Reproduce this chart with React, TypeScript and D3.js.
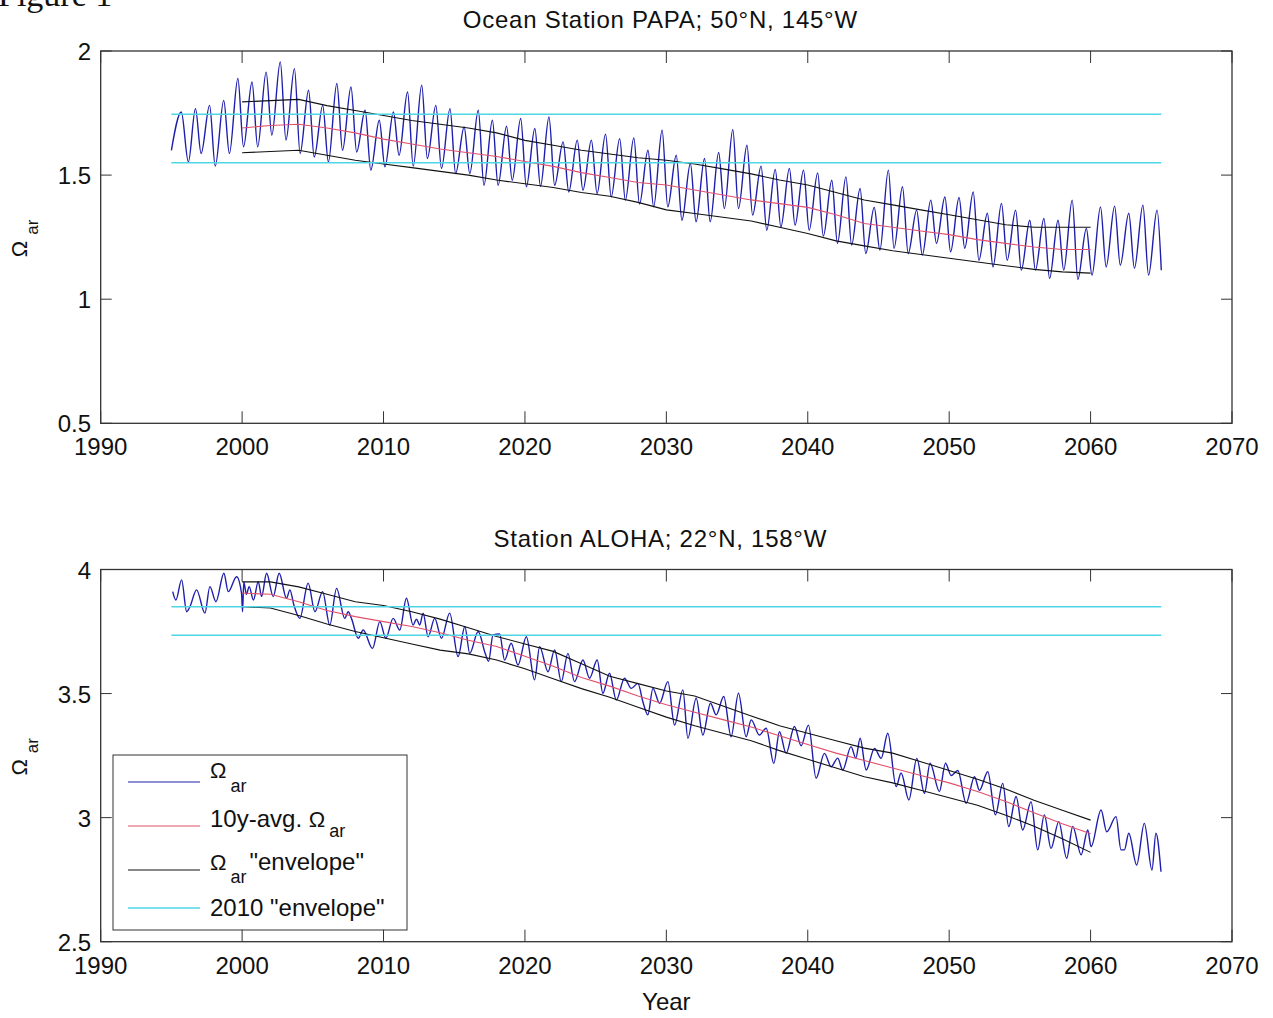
import React from 'react';
import * as d3 from 'd3';

// x axis (years) and y ticks
const yearTicks = [1990, 2000, 2010, 2020, 2030, 2040, 2050, 2060, 2070];
const papaTicks = [0.5, 1, 1.5, 2];
const alohaTicks = [2.5, 3, 3.5, 4];

// envelope / average sampled every 2 years, 2000..2060
const envYears = d3.range(2000, 2061, 2);

// Ocean Station PAPA
const papaAvg = [1.69, 1.7, 1.705, 1.69, 1.67, 1.645, 1.625, 1.605, 1.59, 1.575, 1.555, 1.535, 1.51, 1.49, 1.47, 1.46,
  1.44, 1.42, 1.4, 1.385, 1.37, 1.34, 1.305, 1.29, 1.275, 1.26, 1.24, 1.225, 1.21, 1.2, 1.2];
const papaUpper = [1.795, 1.8, 1.805, 1.78, 1.76, 1.74, 1.72, 1.705, 1.69, 1.67, 1.64, 1.62, 1.6, 1.585, 1.57, 1.56,
  1.545, 1.525, 1.505, 1.48, 1.46, 1.43, 1.4, 1.38, 1.36, 1.34, 1.32, 1.3, 1.29, 1.29, 1.29];
const papaLower = [1.59, 1.595, 1.6, 1.58, 1.56, 1.545, 1.53, 1.515, 1.5, 1.48, 1.465, 1.45, 1.43, 1.415, 1.39, 1.36,
  1.345, 1.33, 1.315, 1.29, 1.265, 1.235, 1.215, 1.195, 1.18, 1.165, 1.15, 1.135, 1.12, 1.11, 1.105];
const papaBand = [1.745, 1.55];
// seasonal extremes [year, omega]
const papaOmega: [number, number][] = [
  [1995.0, 1.6], [1995.7, 1.754], [1996.2, 1.553], [1996.7, 1.768], [1997.1, 1.587], [1997.7, 1.781],
  [1998.1, 1.536], [1998.7, 1.801], [1999.1, 1.587], [1999.7, 1.889], [2000.1, 1.614], [2000.7, 1.875],
  [2001.1, 1.614], [2001.7, 1.915], [2002.1, 1.661], [2002.7, 1.956], [2003.1, 1.641], [2003.7, 1.929],
  [2004.1, 1.587], [2004.7, 1.842], [2005.1, 1.573], [2005.7, 1.781], [2006.1, 1.553], [2006.7, 1.869],
  [2007.1, 1.6], [2007.7, 1.855], [2008.1, 1.593], [2008.7, 1.761], [2009.1, 1.52], [2009.7, 1.721],
  [2010.1, 1.533], [2010.7, 1.754], [2011.1, 1.58], [2011.7, 1.835], [2012.1, 1.536], [2012.7, 1.862],
  [2013.1, 1.567], [2013.7, 1.781], [2014.1, 1.527], [2014.7, 1.768], [2015.1, 1.506], [2015.7, 1.694],
  [2016.1, 1.506], [2016.7, 1.761], [2017.1, 1.459], [2017.7, 1.721], [2018.1, 1.459], [2018.7, 1.697],
  [2019.1, 1.479], [2019.7, 1.728], [2020.1, 1.453], [2020.7, 1.688], [2021.1, 1.455], [2021.7, 1.734],
  [2022.1, 1.459], [2022.7, 1.634], [2023.1, 1.432], [2023.7, 1.641], [2024.1, 1.439], [2024.7, 1.641],
  [2025.1, 1.426], [2025.7, 1.665], [2026.1, 1.412], [2026.7, 1.647], [2027.1, 1.399], [2027.7, 1.65],
  [2028.1, 1.383], [2028.7, 1.6], [2029.1, 1.372], [2029.7, 1.681], [2030.1, 1.372], [2030.7, 1.58],
  [2031.1, 1.318], [2031.7, 1.547], [2032.1, 1.312], [2032.7, 1.567], [2033.1, 1.312], [2033.7, 1.591],
  [2034.1, 1.365], [2034.7, 1.684], [2035.1, 1.365], [2035.7, 1.62], [2036.1, 1.339], [2036.7, 1.536],
  [2037.1, 1.278], [2037.7, 1.523], [2038.1, 1.291], [2038.7, 1.527], [2039.1, 1.298], [2039.7, 1.52],
  [2040.1, 1.278], [2040.7, 1.509], [2041.1, 1.254], [2041.7, 1.479], [2042.1, 1.225], [2042.7, 1.493],
  [2043.1, 1.218], [2043.7, 1.446], [2044.1, 1.184], [2044.7, 1.37], [2045.1, 1.198], [2045.7, 1.52],
  [2046.1, 1.205], [2046.7, 1.453], [2047.1, 1.184], [2047.7, 1.359], [2048.1, 1.178], [2048.7, 1.399],
  [2049.1, 1.225], [2049.7, 1.412], [2050.1, 1.191], [2050.7, 1.41], [2051.1, 1.205], [2051.7, 1.432],
  [2052.1, 1.157], [2052.7, 1.346], [2053.1, 1.13], [2053.7, 1.386], [2054.1, 1.157], [2054.7, 1.359],
  [2055.1, 1.117], [2055.7, 1.318], [2056.1, 1.117], [2056.7, 1.325], [2057.1, 1.084], [2057.7, 1.318],
  [2058.1, 1.117], [2058.7, 1.399], [2059.1, 1.08], [2059.7, 1.285], [2060.1, 1.097], [2060.7, 1.372],
  [2061.1, 1.13], [2061.7, 1.375], [2062.1, 1.137], [2062.7, 1.346], [2063.1, 1.124], [2063.7, 1.379],
  [2064.1, 1.097], [2064.7, 1.359], [2065.0, 1.117],
];

// Station ALOHA
const alohaAvg = [3.905, 3.9, 3.87, 3.835, 3.81, 3.79, 3.77, 3.745, 3.715, 3.69, 3.65, 3.61, 3.565, 3.53, 3.49, 3.455,
  3.425, 3.395, 3.365, 3.33, 3.295, 3.26, 3.23, 3.2, 3.17, 3.14, 3.105, 3.065, 3.02, 2.975, 2.935];
const alohaUpper = [3.95, 3.95, 3.93, 3.9, 3.87, 3.855, 3.83, 3.8, 3.765, 3.73, 3.7, 3.67, 3.62, 3.57, 3.54, 3.51,
  3.49, 3.45, 3.41, 3.37, 3.34, 3.31, 3.28, 3.26, 3.225, 3.19, 3.155, 3.115, 3.07, 3.03, 2.99];
const alohaLower = [3.85, 3.845, 3.815, 3.78, 3.75, 3.725, 3.7, 3.675, 3.66, 3.635, 3.6, 3.56, 3.52, 3.485, 3.445, 3.405,
  3.37, 3.34, 3.31, 3.27, 3.235, 3.2, 3.165, 3.14, 3.11, 3.08, 3.05, 3.01, 2.965, 2.915, 2.86];
const alohaBand = [3.85, 3.735];
const alohaOmega: [number, number][] = [
  [1995.09, 3.911], [1995.32, 3.877], [1995.72, 3.958], [1996.08, 3.83], [1996.31, 3.85], [1996.78, 3.918],
  [1997.37, 3.824], [1997.72, 3.931], [1998.15, 3.87], [1998.71, 3.985], [1999.02, 3.911], [1999.61, 3.971],
  [1999.96, 3.904], [2000.03, 3.83], [2000.12, 3.95], [2000.3, 3.9], [2000.5, 3.931], [2000.8, 3.877],
  [2001.14, 3.951], [2001.38, 3.891], [2001.73, 3.985], [2002.2, 3.891], [2002.62, 3.985], [2003.14, 3.884],
  [2003.38, 3.918], [2003.66, 3.857], [2004.08, 3.803], [2004.67, 3.945], [2005.15, 3.83], [2005.69, 3.911],
  [2006.2, 3.776], [2006.68, 3.924], [2007.26, 3.803], [2007.5, 3.83], [2007.75, 3.8], [2008.21, 3.723],
  [2008.56, 3.756], [2009.22, 3.682], [2009.74, 3.79], [2010.16, 3.723], [2010.68, 3.803], [2011.15, 3.756],
  [2011.62, 3.884], [2012.09, 3.776], [2012.33, 3.8], [2012.56, 3.776], [2012.8, 3.824], [2013.15, 3.729],
  [2013.62, 3.803], [2014.1, 3.723], [2014.68, 3.824], [2015.27, 3.649], [2015.75, 3.77], [2016.1, 3.662],
  [2016.69, 3.75], [2017.2, 3.66], [2017.43, 3.63], [2017.74, 3.736], [2018.21, 3.74], [2018.56, 3.635],
  [2019.03, 3.703], [2019.51, 3.615], [2020.1, 3.729], [2020.68, 3.555], [2021.04, 3.689], [2021.63, 3.588],
  [2022.1, 3.676], [2022.57, 3.548], [2023.04, 3.662], [2023.51, 3.548], [2024.1, 3.635], [2024.57, 3.562],
  [2025.11, 3.635], [2025.51, 3.501], [2025.98, 3.582], [2026.46, 3.474], [2027.04, 3.562], [2027.52, 3.521],
  [2027.99, 3.541], [2028.34, 3.467], [2028.69, 3.414], [2029.05, 3.521], [2029.52, 3.461], [2030.11, 3.548],
  [2030.58, 3.373], [2031.17, 3.515], [2031.52, 3.32], [2032.11, 3.481], [2032.58, 3.333], [2033.12, 3.461],
  [2033.52, 3.414], [2034.06, 3.488], [2034.58, 3.326], [2035.1, 3.501], [2035.64, 3.326], [2036.0, 3.394],
  [2036.58, 3.333], [2037.06, 3.36], [2037.6, 3.219], [2038.0, 3.346], [2038.47, 3.259], [2039.06, 3.367],
  [2039.53, 3.29], [2040.05, 3.373], [2040.59, 3.159], [2041.18, 3.259], [2041.65, 3.205], [2042.12, 3.24],
  [2042.47, 3.192], [2043.06, 3.286], [2043.4, 3.24], [2043.7, 3.32], [2044.13, 3.192], [2044.72, 3.279],
  [2045.19, 3.239], [2045.66, 3.34], [2046.25, 3.125], [2046.6, 3.18], [2047.15, 3.071], [2047.71, 3.239],
  [2048.25, 3.098], [2048.65, 3.219], [2049.31, 3.105], [2049.74, 3.219], [2050.14, 3.17], [2050.61, 3.19],
  [2051.2, 3.058], [2051.79, 3.165], [2052.14, 3.11], [2052.73, 3.185], [2053.27, 3.011], [2053.79, 3.138],
  [2054.21, 2.964], [2054.73, 3.085], [2055.2, 2.95], [2055.79, 3.064], [2056.26, 2.87], [2056.73, 3.011],
  [2057.2, 2.876], [2057.75, 2.984], [2058.31, 2.836], [2058.74, 2.964], [2059.33, 2.85], [2059.8, 2.95],
  [2060.03, 2.883], [2060.74, 3.031], [2061.14, 2.943], [2061.8, 3.004], [2062.15, 2.87], [2062.39, 2.87],
  [2062.7, 2.937], [2063.26, 2.809], [2063.8, 2.977], [2064.34, 2.789], [2064.62, 2.937], [2064.98, 2.782],
];

const W = 1273;
const H = 1018;
const LEFT = 100.7;
const RIGHT = 1232;
const FONT = '"Liberation Sans", Arial, Helvetica, sans-serif';
const AXIS = '#333';
const BLUE = '#1e1eac';
const RED = '#e0506a';
const BLACK = '#111';
const CYAN = '#4fd6e6';

const x = d3.scaleLinear().domain([1990, 2070]).range([LEFT, RIGHT]);

// rotated y-axis label: Omega with subscript "ar"
function YLabel({ cy }: { cy: number }) {
  return (
    <text transform={`translate(27,${cy + 20}) rotate(-90)`} fontFamily={FONT} fill="#111">
      <tspan fontSize={22}>Ω</tspan>
      <tspan fontSize={17} dx={6} dy={11}>ar</tspan>
    </text>
  );
}

function Legend() {
  const bx = 113, by = 755, bw = 294, bh = 175;
  const rows = [
    { y: 782, color: BLUE },
    { y: 826, color: RED },
    { y: 870, color: BLACK },
    { y: 908, color: CYAN },
  ];
  return (
    <g fontFamily={FONT} fill="#111">
      <rect x={bx} y={by} width={bw} height={bh} fill="#fff" stroke={AXIS} strokeWidth={1} />
      {rows.map((r, i) => (
        <line key={i} x1={128} x2={200} y1={r.y} y2={r.y} stroke={r.color} strokeWidth={i === 3 ? 1.5 : 1} />
      ))}
      <text x={210} y={778}>
        <tspan fontSize={22}>Ω</tspan>
        <tspan fontSize={18} dx={4} dy={14}>ar</tspan>
      </text>
      <text x={210} y={827}>
        <tspan fontSize={24}>10y-avg. </tspan>
        <tspan fontSize={22}>Ω</tspan>
        <tspan fontSize={18} dx={4} dy={10}>ar</tspan>
      </text>
      <text x={210} y={870}>
        <tspan fontSize={22}>Ω</tspan>
        <tspan fontSize={18} dx={4} dy={13}>ar</tspan>
        <tspan fontSize={24} dx={3} dy={-13}>"envelope"</tspan>
      </text>
      <text x={210} y={916} fontSize={24}>2010 "envelope"</text>
    </g>
  );
}

type PanelProps = {
  top: number;
  bottom: number;
  title: string;
  domain: [number, number];
  ticks: number[];
  omega: [number, number][];
  avg: number[];
  upper: number[];
  lower: number[];
  band: number[];
  xLabel?: boolean;
  legend?: boolean;
};

function Panel({ top, bottom, title, domain, ticks, omega, avg, upper, lower, band, xLabel, legend }: PanelProps) {
  const y = d3.scaleLinear().domain(domain).range([bottom, top]);
  const omegaLine = d3.line<[number, number]>()
    .x(d => x(d[0]))
    .y(d => y(d[1]))
    .curve(d3.curveMonotoneX);
  const envLine = d3.line<number>()
    .x((_, i) => x(envYears[i]))
    .y(d => y(d));

  return (
    <g>
      <rect x={LEFT} y={top} width={RIGHT - LEFT} height={bottom - top} fill="#fff" />
      <path d={omegaLine(omega) || ''} fill="none" stroke={BLUE} strokeWidth={1.4} />
      <path d={envLine(avg) || ''} fill="none" stroke={RED} strokeWidth={1.1} />
      <path d={envLine(upper) || ''} fill="none" stroke={BLACK} strokeWidth={1.1} />
      <path d={envLine(lower) || ''} fill="none" stroke={BLACK} strokeWidth={1.1} />
      {band.map((v, i) => (
        <line key={i} x1={x(1995)} x2={x(2065)} y1={y(v)} y2={y(v)} stroke={CYAN} strokeWidth={1.6} />
      ))}

      {legend && <Legend />}

      <rect x={LEFT} y={top} width={RIGHT - LEFT} height={bottom - top} fill="none" stroke={AXIS} strokeWidth={1.3} />
      {yearTicks.map(t => (
        <g key={t}>
          <line x1={x(t)} x2={x(t)} y1={bottom} y2={bottom - 12} stroke={AXIS} strokeWidth={1} />
          <line x1={x(t)} x2={x(t)} y1={top} y2={top + 12} stroke={AXIS} strokeWidth={1} />
          <text x={x(t)} y={bottom + 32} textAnchor="middle" fontFamily={FONT} fontSize={24} fill="#111">{t}</text>
        </g>
      ))}
      {ticks.map(t => (
        <g key={t}>
          <line x1={LEFT} x2={LEFT + 11} y1={y(t)} y2={y(t)} stroke={AXIS} strokeWidth={1} />
          <line x1={RIGHT} x2={RIGHT - 11} y1={y(t)} y2={y(t)} stroke={AXIS} strokeWidth={1} />
          <text x={91} y={y(t) + 9} textAnchor="end" fontFamily={FONT} fontSize={24} fill="#111">{String(t)}</text>
        </g>
      ))}
      <text x={(LEFT + RIGHT) / 2 - 6} y={top - 23} textAnchor="middle" fontFamily={FONT} fontSize={24}
        letterSpacing={0.75} fill="#111">{title}</text>
      <YLabel cy={(top + bottom) / 2} />
      {xLabel && (
        <text x={(LEFT + RIGHT) / 2} y={bottom + 68} textAnchor="middle" fontFamily={FONT} fontSize={24} fill="#111">Year</text>
      )}
    </g>
  );
}

export default function App() {
  return (
    <svg width={W} height={H} style={{ position: 'absolute', left: 0, top: 0, background: '#fff' }}>
      <rect width={W} height={H} fill="#fff" />
      <text x={-2} y={6} fontFamily='"Liberation Serif", "Times New Roman", serif' fontSize={34} fill="#111">Figure 1</text>
      <Panel top={51} bottom={423.3} title="Ocean Station PAPA; 50°N, 145°W" domain={[0.5, 2]} ticks={papaTicks}
        omega={papaOmega} avg={papaAvg} upper={papaUpper} lower={papaLower} band={papaBand} />
      <Panel top={569.5} bottom={941.7} title="Station ALOHA; 22°N, 158°W" domain={[2.5, 4]} ticks={alohaTicks}
        omega={alohaOmega} avg={alohaAvg} upper={alohaUpper} lower={alohaLower} band={alohaBand} xLabel legend />
    </svg>
  );
}
